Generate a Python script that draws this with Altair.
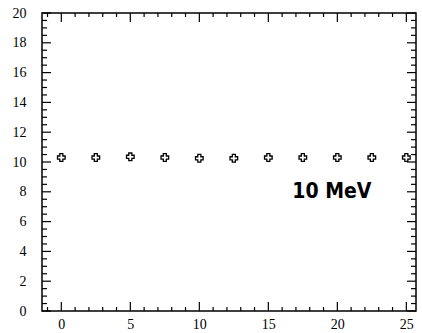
import altair as alt
import pandas as pd

# Measured points
energy_x = [0, 2.5, 5, 7.5, 10, 12.5, 15, 17.5, 20, 22.5, 25]
energy_y = [10.3, 10.3, 10.35, 10.3, 10.25, 10.25, 10.3, 10.3, 10.3, 10.3, 10.3]

# Tick positions on the frame
x_major = [0, 5, 10, 15, 20, 25]
x_minor = [v for v in range(-1, 26) if v % 5 != 0]
y_major = [0, 2, 4, 6, 8, 10, 12, 14, 16, 18, 20]
y_minor = [i * 0.5 for i in range(0, 41) if i % 4 != 0]

label_text = ["10 MeV"]
label_x = [19.6]
label_y = [8.0]

W, H = 374, 298

df = pd.DataFrame({"x": energy_x, "y": energy_y})
lab = pd.DataFrame({"x": label_x, "y": label_y, "t": label_text})

xs = alt.Scale(domain=[-1.4, 25.7], nice=False, zero=False)
ys = alt.Scale(domain=[0, 20], nice=False, zero=False)

FONT = "Liberation Serif"

# One shared axis definition per direction, used by every layer so they merge cleanly
AX = alt.Axis(values=x_major, ticks=False, domain=False, grid=False, title=None,
              labelFont=FONT, labelFontSize=14, labelColor="black", labelPadding=6)
AY = alt.Axis(values=y_major, ticks=False, domain=False, grid=False, title=None,
              labelFont=FONT, labelFontSize=14, labelColor="black", labelPadding=16)

pts = alt.Chart(df).mark_point(
    shape="cross", size=58, filled=False, stroke="black", strokeWidth=1.3, opacity=1,
).encode(
    x=alt.X("x:Q", scale=xs, axis=AX),
    y=alt.Y("y:Q", scale=ys, axis=AY),
)


def xticks(values, length):
    d = pd.DataFrame({"v": values})
    enc = dict(x=alt.X("v:Q", scale=xs, axis=AX))
    bottom = alt.Chart(d).mark_rule(color="black", strokeWidth=1.2).encode(
        y=alt.value(H), y2=alt.value(H - length), **enc)
    top = alt.Chart(d).mark_rule(color="black", strokeWidth=1.2).encode(
        y=alt.value(0), y2=alt.value(length), **enc)
    return [bottom, top]


def yticks(values, length):
    d = pd.DataFrame({"v": values})
    enc = dict(y=alt.Y("v:Q", scale=ys, axis=AY))
    left = alt.Chart(d).mark_rule(color="black", strokeWidth=1.2).encode(
        x=alt.value(0), x2=alt.value(length), **enc)
    right = alt.Chart(d).mark_rule(color="black", strokeWidth=1.2).encode(
        x=alt.value(W), x2=alt.value(W - length), **enc)
    return [left, right]


ticks = xticks(x_major, 9) + xticks(x_minor, 4) + yticks(y_major, 9) + yticks(y_minor, 5)

txt = alt.Chart(lab).mark_text(
    font="DejaVu Sans Condensed", fontSize=21, fontWeight="bold", color="black",
).encode(
    x=alt.X("x:Q", scale=xs, axis=AX),
    y=alt.Y("y:Q", scale=ys, axis=AY),
    text="t:N",
)

chart = (
    alt.layer(pts, *ticks, txt)
    .properties(
        width=W, height=H,
        autosize=alt.AutoSizeParams(type="none"),
        padding={"left": 42, "top": 13, "right": 6, "bottom": 22},
        background="white",
    )
    .configure_view(stroke="black", strokeWidth=1.5)
)

chart.save("out.html", embed_options={"renderer": "svg", "actions": False})
